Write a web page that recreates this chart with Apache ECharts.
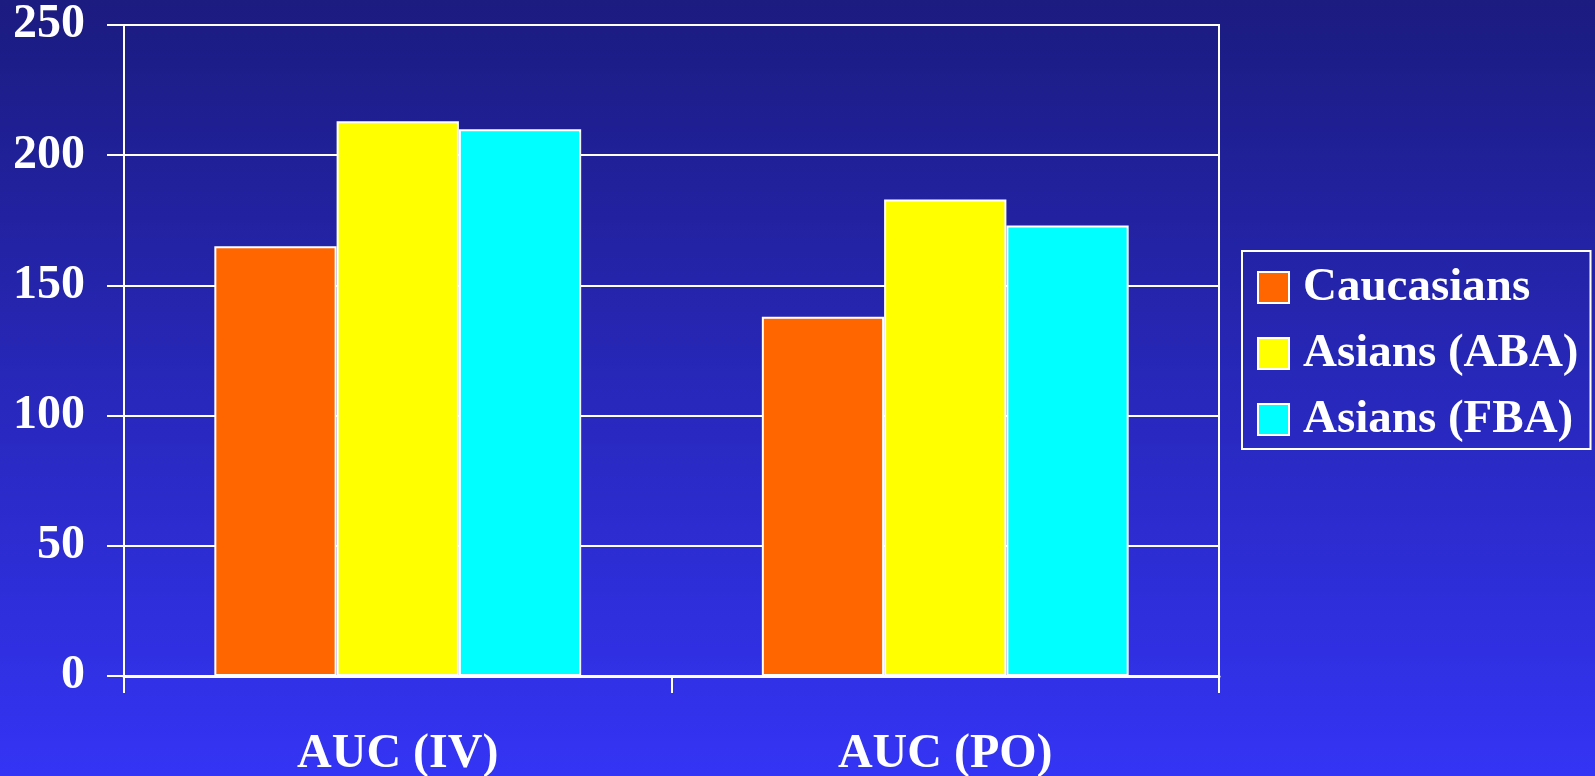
<!DOCTYPE html>
<html><head><meta charset="utf-8">
<script src="https://cdn.jsdelivr.net/npm/echarts@6/dist/echarts.min.js"></script>
<style>html,body{margin:0;padding:0;width:1595px;height:776px;overflow:hidden}#c{width:1595px;height:776px}</style>
</head><body><div id="c"></div>
<script>
const categories = ['AUC (IV)', 'AUC (PO)'];
const seriesNames = ['Caucasians', 'Asians (ABA)', 'Asians (FBA)'];
const caucasians = [165, 138];
const asiansABA = [213, 183];
const asiansFBA = [210, 173];
const yTicks = [0, 50, 100, 150, 200, 250];
const colors = ['#ff6600', '#ffff00', '#00ffff'];
const values = [caucasians, asiansABA, asiansFBA];

const font = 'Liberation Serif';
const chart = echarts.init(document.getElementById('c'));
chart.setOption({
  animation: false,
  backgroundColor: new echarts.graphic.LinearGradient(0, 0, 0, 1, [
    {offset: 0, color: '#1b1b80'},
    {offset: 1, color: '#3434f5'}
  ]),
  grid: {left: 124, right: 376, top: 25, bottom: 100, outerBoundsMode: 'none', containLabel: false, show: true, borderColor: '#ffffff', borderWidth: 2, backgroundColor: 'transparent'},
  legend: {
    orient: 'vertical', left: 1242, top: 251,
    data: seriesNames,
    icon: 'rect', itemWidth: 31, itemHeight: 31, itemGap: 9,
    borderColor: '#ffffff', borderWidth: 2, padding: [8, 12, 1, 15],
    textStyle: {color: '#ffffff', fontFamily: font, fontWeight: 'bold', fontSize: 47, lineHeight: 47, padding: [10, 0, 0, 9]},
    itemStyle: {borderColor: '#ffffff', borderWidth: 2}
  },
  xAxis: {
    type: 'category', data: categories,
    axisLine: {lineStyle: {color: '#ffffff', width: 3}},
    axisTick: {show: true, length: 17, lineStyle: {color: '#ffffff', width: 2}},
    axisLabel: {color: '#ffffff', fontFamily: font, fontWeight: 'bold', fontSize: 48, margin: 55}
  },
  yAxis: {
    type: 'value', min: yTicks[0], max: yTicks[yTicks.length - 1], interval: yTicks[1] - yTicks[0],
    axisLine: {show: true, lineStyle: {color: '#ffffff', width: 2}},
    axisTick: {show: true, length: 17, lineStyle: {color: '#ffffff', width: 2}},
    splitLine: {show: true, lineStyle: {color: '#ffffff', width: 2}},
    axisLabel: {color: '#ffffff', fontFamily: font, fontWeight: 'bold', fontSize: 48, margin: 39, padding: [16, 0, 0, 0]}
  },
  series: seriesNames.map((name, i) => ({
    name, type: 'bar', data: values[i], barGap: '0%', barCategoryGap: '33%',
    itemStyle: {color: colors[i], borderColor: '#ffffff', borderWidth: 2}
  }))
});
</script></body></html>
